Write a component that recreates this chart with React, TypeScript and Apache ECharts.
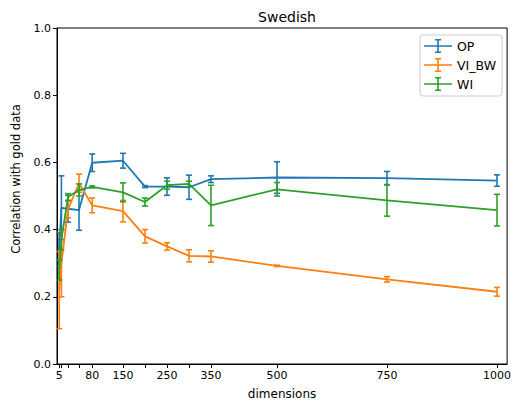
import React, { useEffect, useRef } from "react";
import * as echarts from "echarts";

const dims = [5, 10, 25, 50, 80, 150, 200, 250, 300, 350, 500, 750, 1000];
const tickDims = [5, 10, 25, 50, 80, 150, 200, 250, 300, 350, 500, 750, 1000];
const labelDims = [5, 80, 150, 250, 350, 500, 750, 1000];

const opMean = [0.34, 0.465, 0.462, 0.458, 0.599, 0.605, 0.528, 0.528, 0.526, 0.55, 0.555, 0.553, 0.546];
const opErr = [0.05, 0.095, 0.04, 0.06, 0.026, 0.022, 0.003, 0.026, 0.036, 0.01, 0.047, 0.02, 0.017];

const viMean = [0.22, 0.3, 0.46, 0.538, 0.472, 0.455, 0.38, 0.35, 0.322, 0.32, 0.292, 0.252, 0.215];
const viErr = [0.115, 0.1, 0.025, 0.027, 0.022, 0.032, 0.02, 0.011, 0.018, 0.017, 0.002, 0.008, 0.013];

const wiMean = [0.28, 0.37, 0.497, 0.518, 0.527, 0.511, 0.482, 0.532, 0.536, 0.472, 0.52, 0.487, 0.458];
const wiErr = [0.03, 0.03, 0.01, 0.018, 0.003, 0.028, 0.012, 0.012, 0.008, 0.06, 0.02, 0.047, 0.047];

const names = ["OP", "VI_BW", "WI"];
const colors = ["#1f77b4", "#ff7f0e", "#2ca02c"];
const means = [opMean, viMean, wiMean];
const errs = [opErr, viErr, wiErr];

const FONT = "DejaVu Sans";

const legendIcon =
  "path://M0,6.2 L28,6.2 L28,7.8 L0,7.8 Z M13.2,0 L14.8,0 L14.8,14 L13.2,14 Z M11,0 L17,0 L17,1.4 L11,1.4 Z M11,12.6 L17,12.6 L17,14 L11,14 Z";

export default function App() {
  const ref = useRef<HTMLDivElement>(null);
  useEffect(() => {
    if (!ref.current) return;
    const chart = echarts.init(ref.current, null, { renderer: "svg" });
    const series: any[] = [];
    names.forEach((name, i) => {
      series.push({
        name,
        type: "line",
        data: dims.map((d, j) => [d, means[i][j]]),
        showSymbol: false,
        symbol: "none",
        lineStyle: { color: colors[i], width: 1.8 },
        itemStyle: { color: colors[i] },
        z: 2 + i * 2,
      });
      series.push({
        name,
        type: "custom",
        data: dims.map((d, j) => [d, means[i][j] - errs[i][j], means[i][j] + errs[i][j]]),
        itemStyle: { color: colors[i] },
        z: 3 + i * 2,
        renderItem: (params: any, api: any) => {
          const lo = api.coord([api.value(0), api.value(1)]);
          const hi = api.coord([api.value(0), api.value(2)]);
          const cw = 3;
          const st = { stroke: colors[i], lineWidth: 1.6 };
          return {
            type: "group",
            children: [
              { type: "line", shape: { x1: lo[0], y1: lo[1], x2: hi[0], y2: hi[1] }, style: st },
              { type: "line", shape: { x1: lo[0] - cw, y1: lo[1], x2: lo[0] + cw, y2: lo[1] }, style: st },
              { type: "line", shape: { x1: hi[0] - cw, y1: hi[1], x2: hi[0] + cw, y2: hi[1] }, style: st },
            ],
          };
        },
      });
    });

    chart.setOption({
      animation: false,
      textStyle: { fontFamily: FONT },
      title: {
        text: "Swedish",
        left: 282,
        textAlign: "center",
        top: 5,
        textStyle: { fontFamily: FONT, fontSize: 14, fontWeight: "normal", color: "#000" },
      },
      legend: {
        orient: "vertical",
        right: 12,
        top: 35,
        padding: [4, 6, 5, 4],
        itemGap: 5,
        itemWidth: 28,
        itemHeight: 14,
        itemTextGap: 7,
        borderColor: "#ccc",
        borderWidth: 1,
        borderRadius: 3,
        backgroundColor: "rgba(255,255,255,0.8)",
        textStyle: { fontFamily: FONT, fontSize: 12.5, color: "#000" },
        data: names.map((n, i) => ({ name: n, icon: legendIcon, itemStyle: { color: colors[i] } })),
      },
      graphic: [
        {
          type: "text",
          x: 15.5,
          y: 179,
          rotation: Math.PI / 2,
          style: {
            text: "Correlation with gold data",
            fontFamily: FONT,
            fontSize: 11.5,
            fill: "#000",
            align: "center",
            verticalAlign: "middle",
          },
        },
      ],
      grid: {
        left: 57,
        right: 6,
        top: 28,
        bottom: 43,
        show: true,
        borderColor: "#000",
        borderWidth: 1,
        backgroundColor: "transparent",
      },
      xAxis: {
        type: "value",
        min: 0,
        max: 1023,
        name: "dimensions",
        nameLocation: "middle",
        nameGap: 24,
        nameTextStyle: { fontFamily: FONT, fontSize: 12, color: "#000" },
        axisLine: { show: true, lineStyle: { color: "#000", width: 1 } },
        axisTick: { show: true, length: 4, customValues: tickDims, lineStyle: { color: "#000" } },
        axisLabel: {
          customValues: labelDims,
          fontFamily: FONT,
          fontSize: 11,
          color: "#000",
          margin: 6,
          formatter: (v: number) => String(v),
        },
        splitLine: { show: false },
      },
      yAxis: {
        type: "value",
        min: 0,
        max: 1,
        interval: 0.2,
        axisLine: { show: true, lineStyle: { color: "#000", width: 1 } },
        axisTick: { show: true, length: 4, lineStyle: { color: "#000" } },
        axisLabel: {
          fontFamily: FONT,
          fontSize: 11,
          color: "#000",
          margin: 6,
          formatter: (v: number) => v.toFixed(1),
        },
        splitLine: { show: false },
      },
      series,
    });
    return () => chart.dispose();
  }, []);
  return (
    <div
      ref={ref}
      style={{ position: "fixed", left: 0, top: 0, width: 514, height: 407, background: "#fff" }}
    />
  );
}
